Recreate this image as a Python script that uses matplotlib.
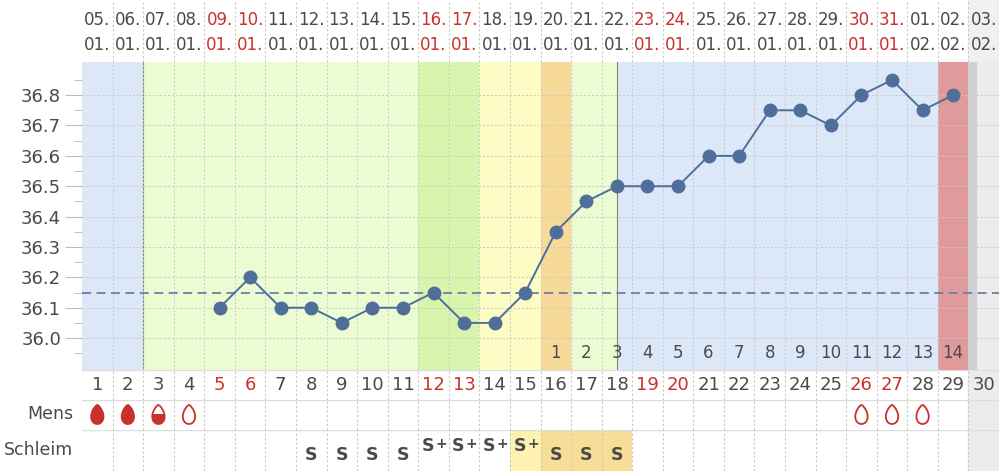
import matplotlib.pyplot as plt
from matplotlib.patches import PathPatch, Rectangle
from matplotlib.path import Path
import numpy as np

# ── Data ──────────────────────────────────────────────────────────────────────
DAYS = list(range(1, 31))
DATES = ["05.", "06.", "07.", "08.", "09.", "10.", "11.", "12.", "13.", "14.",
         "15.", "16.", "17.", "18.", "19.", "20.", "21.", "22.", "23.", "24.",
         "25.", "26.", "27.", "28.", "29.", "30.", "31.", "01.", "02.", "03."]
MONTHS = ["01."] * 27 + ["02."] * 3
WEEKEND_DAYS = [5, 6, 12, 13, 19, 20, 26, 27]

TEMP_DAYS = list(range(5, 30))
TEMPS = [36.10, 36.20, 36.10, 36.10, 36.05, 36.10, 36.10, 36.15, 36.05, 36.05,
         36.15, 36.35, 36.45, 36.50, 36.50, 36.50, 36.60, 36.60, 36.75, 36.75,
         36.70, 36.80, 36.85, 36.75, 36.80]
COVER_LINE = 36.15

POST_DAYS = list(range(16, 30))
POST_LABELS = [str(i) for i in range(1, 15)]

MENS_DAYS = [1, 2, 3, 4, 26, 27, 28]
MENS_FILL = [1.0, 1.0, 0.5, 0.0, 0.0, 0.0, 0.0]

MUCUS_DAYS = [8, 9, 10, 11, 12, 13, 14, 15, 16, 17, 18]
MUCUS = ["S", "S", "S", "S", "S+", "S+", "S+", "S+", "S", "S", "S"]

# background phases: (start, end, colour)
PHASES = [(0.5, 2.5, "#dce8f8"), (2.5, 11.5, "#ebfbd2"), (11.5, 13.5, "#d8f5ad"),
          (13.5, 15.5, "#fdfcc4"), (15.5, 16.5, "#f7d99a"), (16.5, 18.0, "#ebfbd2"),
          (18.0, 28.5, "#dce8f8"), (28.5, 29.5, "#e09a9c"), (29.5, 30.5, "#ececec")]

DARK = "#4a4a4a"
RED = "#c8322d"
LINE = "#4f6f9a"
GRID = "#c8c8c8"

fig = plt.figure(figsize=(10, 4.71), dpi=100)
L, W = 0.082, 0.917


def row_axes(top_px, bot_px):
    ax = fig.add_axes([L, 1 - bot_px / 471, W, (bot_px - top_px) / 471])
    ax.set_xlim(0.5, 30.5)
    ax.set_ylim(0, 1)
    ax.set_xticks([])
    ax.set_yticks([])
    for s in ax.spines.values():
        s.set_visible(False)
    for d in DAYS[:-1]:
        ax.axvline(d + 0.5, color=GRID, lw=0.8, ls=(0, (2, 2)))
    return ax


# ── Header with dates ─────────────────────────────────────────────────────────
hdr = row_axes(0, 62)
hdr.axvspan(29.5, 30.5, color="#f0f0f0", zorder=0)
for d, dt, mo in zip(DAYS, DATES, MONTHS):
    c = RED if d in WEEKEND_DAYS else DARK
    hdr.text(d, 0.68, dt, ha="center", va="center", fontsize=12, color=c)
    hdr.text(d, 0.27, mo, ha="center", va="center", fontsize=12, color=c)

# ── Temperature chart ─────────────────────────────────────────────────────────
ax = fig.add_axes([L, 101 / 471, W, 308 / 471])
ax.set_xlim(0.5, 30.5)
ax.set_ylim(35.895, 36.909)
for x0, x1, c in PHASES:
    ax.axvspan(x0, x1, color=c, lw=0, zorder=0)
ax.axvspan(29.5, 29.78, color="#d0d0d0", lw=0, zorder=0)
ax.axvline(2.5, color="#7a8a6a", lw=0.8, zorder=1)
ax.axvline(18.0, color="#7a8a6a", lw=0.8, zorder=1)
for d in DAYS[:-1]:
    ax.axvline(d + 0.5, color=GRID, lw=0.7, ls=(0, (2, 2)), zorder=1)
for t in np.arange(36.0, 36.81, 0.1):
    ax.axhline(t, color=GRID, lw=0.7, ls=(0, (2, 2)), zorder=1)
ax.axhline(COVER_LINE, color="#6a7fa8", lw=1.3, ls=(0, (5, 3)), zorder=2)
ax.plot(TEMP_DAYS, TEMPS, color=LINE, lw=1.4, marker="o", ms=9,
        mfc=LINE, mec=LINE, zorder=3)
for d, lab in zip(POST_DAYS, POST_LABELS):
    ax.text(d, 35.95, lab, ha="center", va="center", fontsize=12, color=DARK, zorder=4)
ax.set_xticks([])
ax.set_yticks(np.arange(36.0, 36.81, 0.1))
ax.set_yticklabels([f"{t:.1f}" for t in np.arange(36.0, 36.81, 0.1)],
                   fontsize=13, color=DARK)
ax.set_yticks(np.arange(35.95, 36.86, 0.1), minor=True)
ax.tick_params(axis="y", which="major", length=12, color="#bbbbbb", pad=3)
ax.tick_params(axis="y", which="minor", length=6, color="#bbbbbb")
for s in ax.spines.values():
    s.set_visible(False)

# ── Cycle day row ─────────────────────────────────────────────────────────────
day_ax = row_axes(370, 400)
day_ax.axvspan(29.5, 30.5, color="#ececec", zorder=0)
for d in DAYS:
    c = RED if d in WEEKEND_DAYS else DARK
    day_ax.text(d, 0.5, str(d), ha="center", va="center", fontsize=13, color=c)

# ── Mens row ──────────────────────────────────────────────────────────────────
mens_ax = row_axes(400, 430)
mens_ax.axvspan(29.5, 30.5, color="#ececec", zorder=0)
fig.text(0.073, 1 - 414 / 471, "Mens", ha="right", va="center", fontsize=12.5, color=DARK)

for d, f in zip(MENS_DAYS, MENS_FILL):
    t = np.linspace(0, 2 * np.pi, 80)
    s = np.sin(t / 2)
    xs = d + 0.24 * np.sin(t) * s ** 0.6
    ys = 0.84 - 0.64 * (1 - np.cos(t)) / 2
    verts = np.column_stack([xs, ys])
    mens_ax.add_patch(PathPatch(Path(verts), fc="none", ec=RED, lw=1.3, zorder=3))
    if f > 0:
        clip = Rectangle((d - 0.5, 0), 1, 0.2 + 0.64 * f, transform=mens_ax.transData)
        p = PathPatch(Path(verts), fc=RED, ec="none", zorder=2)
        mens_ax.add_patch(p)
        p.set_clip_path(clip)

# ── Schleim row ───────────────────────────────────────────────────────────────
sch_ax = row_axes(430, 471)
sch_ax.axvspan(29.5, 30.5, color="#ececec", zorder=0)
sch_ax.axvspan(14.5, 15.5, color="#fdf2b0", lw=0, zorder=0)
sch_ax.axvspan(15.5, 18.5, color="#f8dd98", lw=0, zorder=0)
for d, m in zip(MUCUS_DAYS, MUCUS):
    if m == "S":
        sch_ax.text(d, 0.4, "S", ha="center", va="center", fontsize=12.5,
                    color=DARK, fontweight="bold")
    else:
        sch_ax.text(d + 0.02, 0.6, "S", ha="right", va="center", fontsize=12.5,
                    color=DARK, fontweight="bold")
        sch_ax.text(d + 0.06, 0.66, "+", ha="left", va="center", fontsize=10,
                    color=DARK, fontweight="bold")
fig.text(0.073, 1 - 450 / 471, "Schleim", ha="right", va="center", fontsize=12.5, color=DARK)
for a in (day_ax, mens_ax, sch_ax):
    a.axhline(1, color="#dddddd", lw=1)

fig.savefig("out.png", dpi=100)
